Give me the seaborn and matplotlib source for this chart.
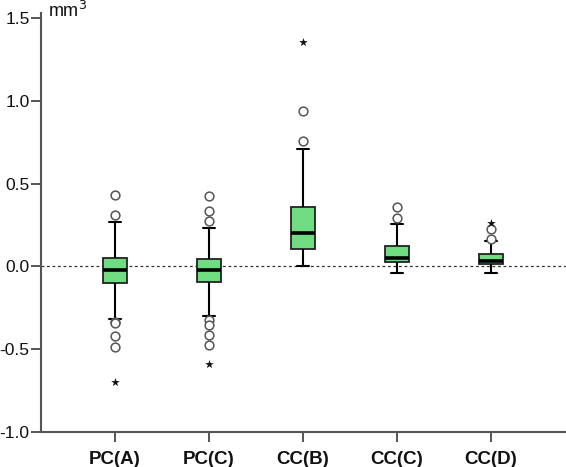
import numpy as np
import pandas as pd
import seaborn as sns
import matplotlib.pyplot as plt

# ---- data ----
groups = ["PC(A)", "PC(C)", "CC(B)", "CC(C)", "CC(D)"]
q1 = [-0.099, -0.092, 0.105, 0.026, 0.012]
median = [-0.024, -0.024, 0.202, 0.053, 0.032]
q3 = [0.053, 0.047, 0.360, 0.123, 0.073]
whisker_low = [-0.318, -0.298, 0.000, -0.038, -0.038]
whisker_high = [0.270, 0.233, 0.708, 0.259, 0.154]
outliers_circle = [
    [0.431, 0.310, -0.336, -0.340, -0.423, -0.484],
    [0.427, 0.334, 0.273, -0.324, -0.352, -0.415, -0.475],
    [0.941, 0.757],
    [0.360, 0.290],
    [0.223, 0.168],
]
outliers_star = [[-0.698], [-0.590], [1.358], [], [0.263]]

# ---- build the tables seaborn needs ----
K = 50
box_rows = []
for g, lo, a, m, b, hi in zip(groups, whisker_low, q1, median, q3, whisker_high):
    vals = [lo] + [a] * K + [m] * K + [b] * K + [hi]
    box_rows += [(g, v) for v in vals]
box_df = pd.DataFrame(box_rows, columns=["group", "value"])

circ_df = pd.DataFrame([(g, v) for g, vs in zip(groups, outliers_circle) for v in vs],
                       columns=["group", "value"])
star_df = pd.DataFrame([(g, v) for g, vs in zip(groups, outliers_star) for v in vs],
                       columns=["group", "value"])

sns.set_style("white")
plt.rcParams["font.family"] = ["Liberation Sans", "DejaVu Sans"]

fig = plt.figure(figsize=(5.66, 4.67), dpi=100)
ax = fig.add_axes([0.0733, 0.075, 0.9267, 0.897])

ax.axhline(0, color="#333333", lw=0.9, ls=(0, (2.2, 2.2)), zorder=1)

sns.boxplot(data=box_df, x="group", y="value", order=groups, ax=ax,
            color="#70DC82", saturation=1, width=0.255, whis=(0, 100),
            showfliers=False, linecolor="#222222", linewidth=1.3,
            medianprops=dict(color="black", linewidth=2.6),
            whiskerprops=dict(color="black", linewidth=1.5),
            capprops=dict(color="black", linewidth=1.5))

sns.stripplot(data=circ_df, x="group", y="value", order=groups, ax=ax,
              jitter=False, marker="o", color="white", edgecolor="#555555",
              linewidth=1.1, size=6.3, zorder=3)
sns.stripplot(data=star_df, x="group", y="value", order=groups, ax=ax,
              jitter=False, marker="*", color="#111111", size=6.5, zorder=3,
              linewidth=0)

ax.set_xlim(-0.78, 4.8)
ax.set_ylim(-1.0, 1.53)
ax.set_yticks([-1.0, -0.5, 0.0, 0.5, 1.0, 1.5])
ax.set_yticklabels(["-1.0", "-0.5", "0.0", "0.5", "1.0", "1.5"], fontsize=12.5)
ax.set_xticks(range(len(groups)))
ax.set_xticklabels(groups, fontsize=13.5, fontweight="bold")
ax.set_xlabel("")
ax.set_ylabel("")

for side in ["top", "right"]:
    ax.spines[side].set_visible(False)
for side in ["left", "bottom"]:
    ax.spines[side].set_color("#555555")
    ax.spines[side].set_linewidth(1.5)
ax.tick_params(axis="both", direction="out", length=7.5, width=1.4,
               color="#555555", labelcolor="#111111")
ax.tick_params(axis="x", pad=6)
ax.tick_params(axis="y", pad=1)
ax.tick_params(bottom=True, left=True)

ax.text(0.012, 1.505, "mm$^3$", transform=ax.get_yaxis_transform(),
        fontsize=13, va="baseline", ha="left", color="#111111")

fig.savefig("out.png", dpi=100)
